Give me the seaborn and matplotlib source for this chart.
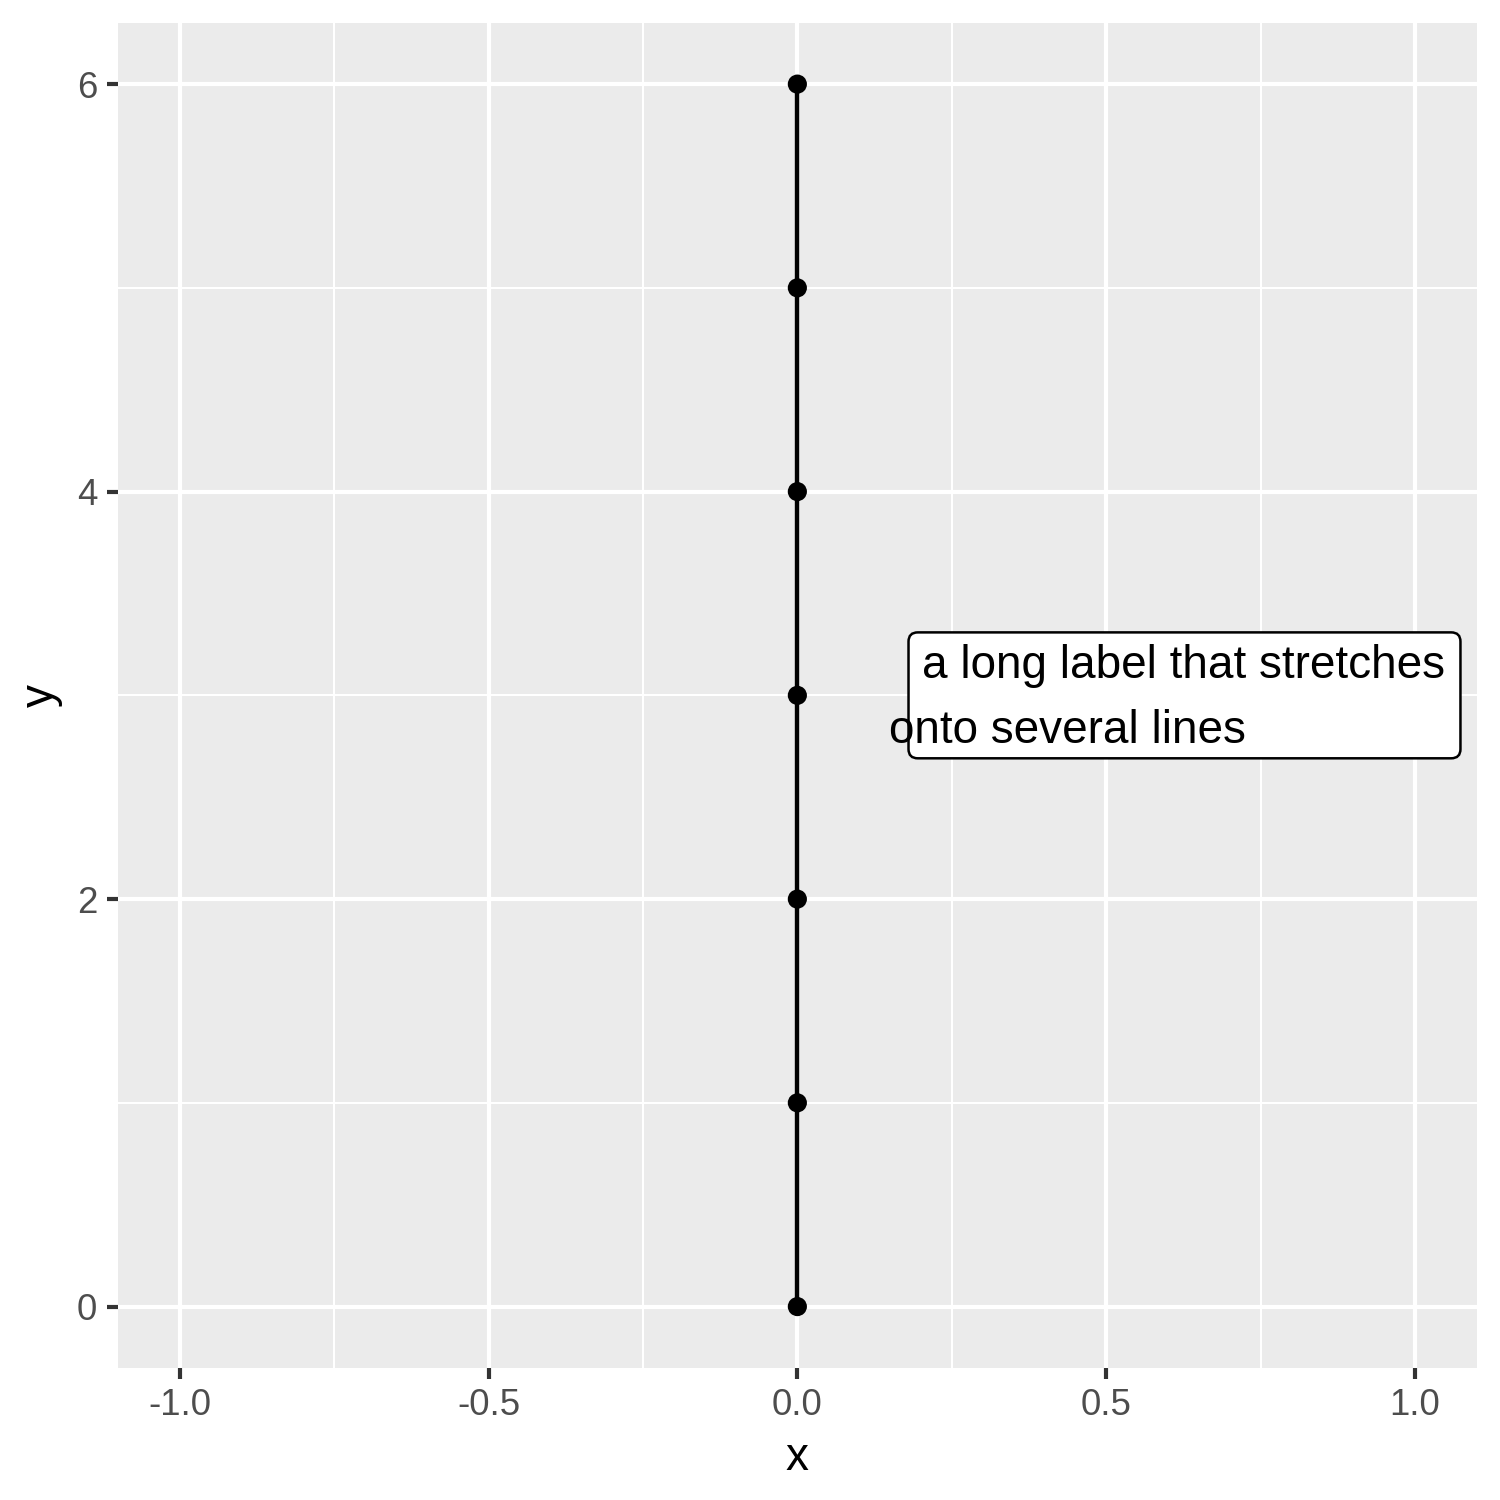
import matplotlib
matplotlib.use("Agg")
import matplotlib.pyplot as plt
import seaborn as sns
import pandas as pd
from matplotlib.patches import FancyBboxPatch

x_vals = [0, 0, 0, 0, 0, 0, 0]
y_vals = [0, 1, 2, 3, 4, 5, 6]
label_line1 = "a long label that stretches"
label_line2 = "onto several lines"
x_ticks = [-1.0, -0.5, 0.0, 0.5, 1.0]
x_ticklabels = ["-1.0", "-0.5", "0.0", "0.5", "1.0"]
y_ticks = [0, 2, 4, 6]
y_ticklabels = ["0", "2", "4", "6"]
x_minor = [-0.75, -0.25, 0.25, 0.75]
y_minor = [1, 3, 5]

df = pd.DataFrame({"x": x_vals, "y": y_vals})

sns.set_theme(style="darkgrid")
plt.rcParams['font.family'] = ['Liberation Sans', 'DejaVu Sans']

fig = plt.figure(figsize=(5, 5), dpi=300)
ax = fig.add_axes([118/1500, 1 - 1367.7/1500, (1476.7-118)/1500, (1367.7-23)/1500])
ax.set_facecolor("#EBEBEB")

sns.lineplot(data=df, x="x", y="y", estimator=None, sort=False, color="black",
             linewidth=1.05, ax=ax, zorder=3)
sns.scatterplot(data=df, x="x", y="y", color="black", s=4.6**2, edgecolor="none",
                ax=ax, zorder=4)

ax.set_xlim(-1.1, 1.1)
ax.set_ylim(-0.3, 6.3)
ax.set_xticks(x_ticks)
ax.set_xticklabels(x_ticklabels)
ax.set_yticks(y_ticks)
ax.set_yticklabels(y_ticklabels)
ax.set_xticks(x_minor, minor=True)
ax.set_yticks(y_minor, minor=True)
ax.grid(which="major", color="white", linewidth=1.0)
ax.grid(which="minor", color="white", linewidth=0.5)
ax.set_axisbelow(True)
for s in ax.spines.values():
    s.set_visible(False)
ax.tick_params(axis="both", which="major", length=2.75, width=1.0, color="#333333",
               labelsize=8.8, labelcolor="#4D4D4D", pad=2.2, bottom=True, left=True)
ax.tick_params(axis="both", which="minor", length=0)
ax.set_xlabel("x", fontsize=11, color="black", labelpad=3)
ax.set_ylabel("y", fontsize=11, color="black", labelpad=3.3)

# label box
box = FancyBboxPatch((0.18, 2.691), 1.0737 - 0.18, 3.309 - 2.691,
                     boxstyle="round,pad=0,rounding_size=0.015",
                     mutation_aspect=3.0,
                     facecolor="white", edgecolor="black", linewidth=0.6, zorder=5)
ax.add_patch(box)
ax.text(0.2024, 3.083, label_line1, fontsize=11, color="black", va="baseline",
        ha="left", zorder=6)
ax.text(0.149, 2.765, label_line2, fontsize=11, color="black", va="baseline",
        ha="left", zorder=6)

fig.savefig("out.png", dpi=300)
